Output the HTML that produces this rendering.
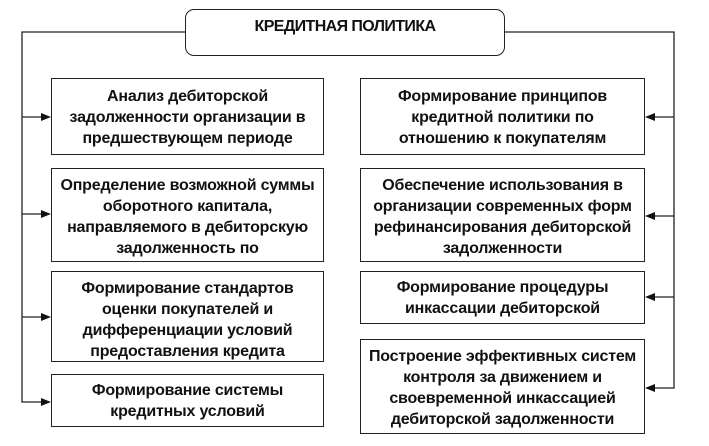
<!DOCTYPE html>
<html><head><meta charset="utf-8"><style>
body{margin:0;width:709px;height:446px;background:#fff;position:relative;font-family:"Liberation Sans",sans-serif;overflow:hidden}
.b{position:absolute;border:1.3px solid #222;box-sizing:border-box;overflow:hidden;text-align:center;font-weight:bold;font-size:16px;line-height:21px;color:#111;letter-spacing:-0.2px;padding-top:7px;white-space:nowrap}
svg{position:absolute;left:0;top:0}
</style></head><body>
<div class="b" style="left:185px;top:9px;width:320px;height:47px;border-radius:9px;padding-top:6px;font-size:16px;letter-spacing:-0.6px">КРЕДИТНАЯ ПОЛИТИКА</div>
<div class="b" style="left:51px;top:78px;width:273px;height:77px">Анализ дебиторской<br>задолженности организации в<br>предшествующем периоде</div>
<div class="b" style="left:51px;top:168px;width:273px;height:94px;padding-top:6px">Определение возможной суммы<br>оборотного капитала,<br>направляемого в дебиторскую<br>задолженность по</div>
<div class="b" style="left:51px;top:271px;width:273px;height:91px;padding-top:6px">Формирование стандартов<br>оценки покупателей и<br>дифференциации условий<br>предоставления кредита</div>
<div class="b" style="left:51px;top:374px;width:273px;height:53px;padding-top:5px">Формирование системы<br>кредитных условий</div>
<div class="b" style="left:360px;top:78px;width:285px;height:77px">Формирование принципов<br>кредитной политики по<br>отношению к покупателям</div>
<div class="b" style="left:360px;top:168px;width:285px;height:94px;padding-top:6px">Обеспечение использования в<br>организации современных форм<br>рефинансирования дебиторской<br>задолженности</div>
<div class="b" style="left:360px;top:271px;width:285px;height:53px;padding-top:5px">Формирование процедуры<br>инкассации дебиторской</div>
<div class="b" style="left:360px;top:339px;width:285px;height:95px;padding-top:6px">Построение эффективных систем<br>контроля за движением и<br>своевременной инкассацией<br>дебиторской задолженности</div>
<svg width="709" height="446">
<g stroke="#222" stroke-width="1.3" fill="none">
<polyline points="185,32 22,32 22,402 42,402"/>
<line x1="22" y1="117" x2="42" y2="117"/><line x1="22" y1="214" x2="42" y2="214"/><line x1="22" y1="317" x2="42" y2="317"/>
<polyline points="505,32 674,32 674,388 654,388"/>
<line x1="674" y1="117" x2="654" y2="117"/><line x1="674" y1="216" x2="654" y2="216"/><line x1="674" y1="297" x2="654" y2="297"/>
</g>
<g fill="#111">
<polygon points="51,117 41,113 41,121"/><polygon points="51,214 41,210 41,218"/><polygon points="51,317 41,313 41,321"/><polygon points="51,402 41,398 41,406"/>
<polygon points="645,117 655,113 655,121"/><polygon points="645,216 655,212 655,220"/><polygon points="645,297 655,293 655,301"/><polygon points="645,388 655,384 655,392"/>
</g>
</svg>
</body></html>
